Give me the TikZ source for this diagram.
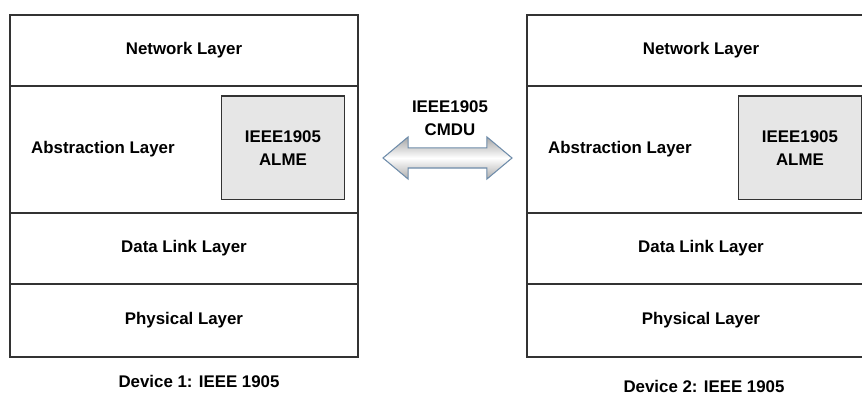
\documentclass[tikz,border=0pt]{standalone}
\usepackage{fontspec}
\setmainfont{Liberation Sans}
\usepackage{tikz}
\usetikzlibrary{positioning, shapes.arrows}

\definecolor{almegray}{HTML}{E6E6E6}
\definecolor{arrowedge}{HTML}{6E8CAA}

\begin{document}
\begin{tikzpicture}[
        x=0.02cm, y=-0.02cm,
        font=\bfseries\fontsize{9.6}{13}\selectfont,
        layer/.style={
            rectangle,
            draw=black!80,
            line width=0.8pt,
            fill=white,
            outer sep=0pt,
            inner sep=0pt,
            minimum width=6.96cm,
            minimum height=1.42cm,
            align=center
        },
        alme/.style={
            rectangle,
            draw=black!80,
            line width=0.6pt,
            fill=almegray,
            minimum width=2.46cm,
            minimum height=2.08cm,
            align=center
        },
        cmdu/.style={
            double arrow,
            draw=arrowedge,
            line width=0.6pt,
            top color=gray!70,
            bottom color=gray!65,
            middle color=white,
            inner sep=0.19cm,
            minimum height=2.58cm,
            double arrow head extend=0.22cm,
            double arrow tip angle=80
        }
    ]
        \useasboundingbox (0,0) rectangle (862,394);
        \clip (0,0) rectangle (862,394);
        % device 1
        \node[layer] (net1) at (184,50.5) {Network Layer};
        \node[layer, below=0pt of net1, minimum height=2.54cm] (abs1) {};
        \node[layer, below=0pt of abs1] (dll1) {Data Link Layer};
        \node[layer, below=0pt of dll1, minimum height=1.46cm] (phy1) {Physical Layer};
        \node[anchor=west] (abstxt1) at ([xshift=0.3cm]abs1.west) {Abstraction Layer};
        \node[alme, anchor=east] (alme1) at ([xshift=-0.26cm, yshift=0.03cm]abs1.east) {IEEE1905\\ALME};
        \node (dev1) at ([xshift=0.3cm, yshift=-0.5cm]phy1.south) {Device 1: IEEE 1905};
        % device 2
        \node[layer] (net2) at (701,50.5) {Network Layer};
        \node[layer, below=0pt of net2, minimum height=2.54cm] (abs2) {};
        \node[layer, below=0pt of abs2] (dll2) {Data Link Layer};
        \node[layer, below=0pt of dll2, minimum height=1.46cm] (phy2) {Physical Layer};
        \node[anchor=west] (abstxt2) at ([xshift=0.3cm]abs2.west) {Abstraction Layer};
        \node[alme, anchor=east] (alme2) at ([xshift=-0.26cm, yshift=0.03cm]abs2.east) {IEEE1905\\ALME};
        \node[inner sep=1pt] (dev2) at ([xshift=0.06cm, yshift=-0.6cm]phy2.south) {Device 2: IEEE 1905};
        % message between the two
        \node[cmdu] (msg) at (447.5,158) {};
        \node[align=center] (msgtxt) at (450,118) {IEEE1905\\CMDU};
    \end{tikzpicture}
\end{document}
